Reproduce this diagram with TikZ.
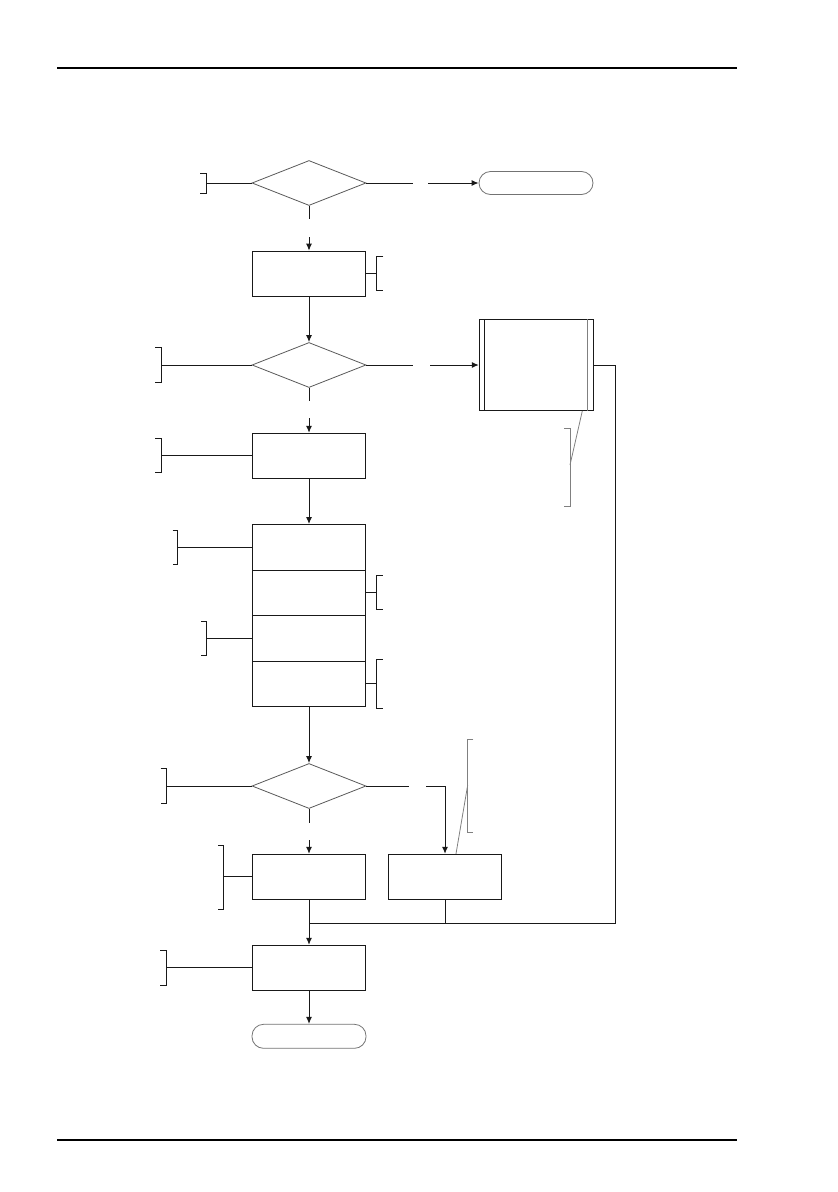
\documentclass[tikz,border=0pt]{standalone}
\usepackage{amsmath,amssymb}
\usetikzlibrary{shapes.geometric,arrows.meta}

\begin{document}
\begin{tikzpicture}[x=1pt,y=-1pt,
  blk/.style={draw=black!90,line width=1pt},
  gry/.style={draw=black!50,line width=0.8pt},
  box/.style={blk,rectangle,minimum width=113pt,minimum height=45pt,inner sep=0pt},
  cond/.style={draw=black!65,line width=0.8pt,diamond,minimum width=114pt,minimum height=45pt,inner sep=0pt},
  term/.style={draw=black!55,line width=0.8pt,rectangle,rounded corners=11.5pt,minimum width=114pt,minimum height=23pt,inner sep=0pt},
  >={Latex[length=7pt,width=6pt]}]
 \useasboundingbox (0,0) rectangle (838,1192); % 用紙

 \coordinate (HS) at (57,68); % 上罫線左
 \coordinate (HL) at (737,68); % 上罫線右
 \coordinate (FS) at (57,1140); % 下罫線左
 \coordinate (FL) at (737,1140); % 下罫線右
 \draw[line width=1.3pt] (HS) -- (HL); % 上罫線
 \draw[line width=1.3pt] (FS) -- (FL); % 下罫線

 \node[cond] (d1) at (309,183) {}; % 判断1
 \node[term] (t1) at (536,183) {}; % 終了1
 \node[box] (b1) at (309,273.7) {}; % 処理1
 \node[cond] (d2) at (309,365) {}; % 判断2
 \node[box,minimum width=114pt,minimum height=91pt] (sub) at (536.3,365) {}; % 定義済み処理
 \node[box] (b2) at (309,455.8) {}; % 処理2
 \foreach \i in {1,...,4}
  \node[box,minimum height=45.5pt] (r\i) at (309,{501.75+45.5*\i}) {}; % 処理3 (4段)
 \node[cond] (d3) at (309,786) {}; % 判断3
 \node[box] (b4) at (309,876.8) {}; % 処理4
 \node[box] (b3) at (445,876.8) {}; % 処理5
 \node[box] (b5) at (309,967.8) {}; % 処理6
 \node[term,minimum height=24pt] (t2) at (309,1036.3) {}; % 終了2

 \draw[blk] ([xshift=6pt]sub.north west) -- ([xshift=6pt]sub.south west); % 縦線
 \draw[gry] ([xshift=-6pt]sub.north east) -- ([xshift=-6pt]sub.south east); % 縦線

 % 切れ目のある矢印
 \coordinate (g1a) at (309,219.3);
 \coordinate (g1b) at (309,237);
 \coordinate (g2a) at (413.3,183);
 \coordinate (g2b) at (428.3,183);
 \coordinate (g3a) at (309,401.3);
 \coordinate (g3b) at (309,418.3);
 \coordinate (g4a) at (413.3,365);
 \coordinate (g4b) at (430,365);
 \coordinate (g5a) at (309,822.7);
 \coordinate (g5b) at (309,840);
 \coordinate (g6a) at (408.7,786);
 \coordinate (g6b) at (426,786);

 \draw[blk] (d1.south) -- (g1a);
 \draw[blk,->] (g1b) -- (b1.north);
 \draw[blk] (d1.east) -- (g2a);
 \draw[blk,->] (g2b) -- (t1.west);
 \draw[blk,->] (b1.south) -- (d2.north);
 \draw[blk] (d2.south) -- (g3a);
 \draw[blk,->] (g3b) -- (b2.north);
 \draw[blk] (d2.east) -- (g4a);
 \draw[blk,->] (g4b) -- (sub.west);
 \draw[blk,->] (b2.south) -- (r1.north);
 \draw[blk,->] (r4.south) -- (d3.north);
 \draw[blk] (d3.south) -- (g5a);
 \draw[blk,->] (g5b) -- (b4.north);
 \draw[blk] (d3.east) -- (g6a);
 \draw[blk,->] (g6b) -| (b3.north);

 % 合流
 \coordinate (J) at (309,923.3);
 \coordinate (JR) at (615,923.3);
 \draw[blk] (sub.east) -| (JR) -- (J);
 \draw[blk] (b3.south) -- (b3.south |- J);
 \draw[blk] (b4.south) -- (J);
 \draw[blk,->] (J) -- (b5.north);
 \draw[blk,->] (b5.south) -- (t2.north);

 % 注釈の括弧
 \coordinate (a1) at (206,183);
 \draw[blk] (d1.west) -- (a1);
 \draw[blk] (a1) ++(-6,-10) -- ++(6,0) -- ++(0,20) -- ++(-6,0);
 \coordinate (a2) at (376.7,273.7);
 \draw[blk] (b1.east) -- (a2);
 \draw[blk] (a2) ++(6.7,-17) -- ++(-6.7,0) -- ++(0,34) -- ++(6.7,0);
 \coordinate (a3) at (161.3,365);
 \draw[blk] (d2.west) -- (a3);
 \draw[blk] (a3) ++(-6,-17.5) -- ++(6,0) -- ++(0,35) -- ++(-6,0);
 \coordinate (a4) at (161.3,455.8);
 \draw[blk] (b2.west) -- (a4);
 \draw[blk] (a4) ++(-6,-17) -- ++(6,0) -- ++(0,34) -- ++(-6,0);
 \coordinate (a5) at (177.7,547.25);
 \draw[blk] (r1.west) -- (a5);
 \draw[blk] (a5) ++(-5,-17) -- ++(5,0) -- ++(0,34) -- ++(-5,0);
 \coordinate (a6) at (376.7,592.75);
 \draw[blk] (r2.east) -- (a6);
 \draw[blk] (a6) ++(6,-17) -- ++(-6,0) -- ++(0,34) -- ++(6,0);
 \coordinate (a7) at (206.7,638.25);
 \draw[blk] (r3.west) -- (a7);
 \draw[blk] (a7) ++(-5.7,-17) -- ++(5.7,0) -- ++(0,34) -- ++(-5.7,0);
 \coordinate (a8) at (376.7,683.75);
 \draw[blk] (r4.east) -- (a8);
 \draw[blk] (a8) ++(6,-24) -- ++(-6,0) -- ++(0,48.5) -- ++(6,0);
 \coordinate (a9) at (166,786);
 \draw[blk] (d3.west) -- (a9);
 \draw[blk] (a9) ++(-5.3,-17.5) -- ++(5.3,0) -- ++(0,35) -- ++(-5.3,0);
 \coordinate (a10) at (223.3,876.8);
 \draw[blk] (b4.west) -- (a10);
 \draw[blk] (a10) ++(-5,-31) -- ++(5,0) -- ++(0,63.3) -- ++(-5,0);
 \coordinate (a11) at (166,967.8);
 \draw[blk] (b5.west) -- (a11);
 \draw[blk] (a11) ++(-6,-17.5) -- ++(6,0) -- ++(0,35) -- ++(-6,0);

 % 引出線つきの括弧
 \coordinate (a12) at (570,465);
 \draw[gry] ([xshift=46pt]sub.south) -- (a12);
 \draw[gry] (570,428.3) ++(-5.7,0) -- ++(5.7,0) -- ++(0,77.7) -- ++(-5.7,0);
 \coordinate (a13) at (467.7,785);
 \draw[gry] ([xshift=11pt]b3.north) -- (a13);
 \draw[gry] (467.7,739.3) ++(5.6,0) -- ++(-5.6,0) -- ++(0,93) -- ++(5.6,0);
\end{tikzpicture}
\end{document}
